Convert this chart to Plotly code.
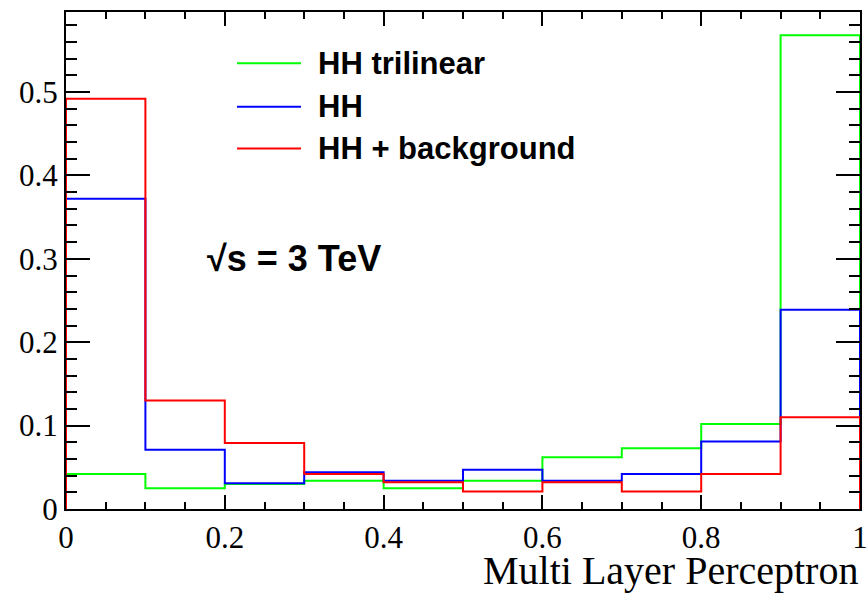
import plotly.graph_objects as go

# ---- data ----
bin_edges = [0.0, 0.1, 0.2, 0.3, 0.4, 0.5, 0.6, 0.7, 0.8, 0.9, 1.0]
hh_trilinear = [0.042, 0.025, 0.030, 0.034, 0.025, 0.034, 0.062, 0.073, 0.102, 0.568]
hh = [0.372, 0.071, 0.031, 0.044, 0.034, 0.047, 0.034, 0.042, 0.081, 0.239]
hh_bkg = [0.492, 0.130, 0.079, 0.042, 0.032, 0.021, 0.032, 0.021, 0.042, 0.110]

series_names = ["HH trilinear", "HH", "HH + background"]
series_colors = ["#00ff00", "#0000ff", "#ff0000"]
series_values = [hh_trilinear, hh, hh_bkg]


def step_xy(edges, vals):
    xs = [edges[0]] + list(edges[:-1]) + [edges[-1], edges[-1]]
    ys = [0.0] + list(vals) + [vals[-1], 0.0]
    return xs, ys


fig = go.Figure()
for name, col, vals in zip(series_names, series_colors, series_values):
    xs, ys = step_xy(bin_edges, vals)
    fig.add_trace(go.Scatter(x=xs, y=ys, mode="lines", line_shape="hv",
                             line=dict(color=col, width=2), name=name,
                             showlegend=False, cliponaxis=True))

serif = "Liberation Serif"
sans = "Liberation Sans"

fig.update_layout(
    width=868, height=596,
    margin=dict(l=66, r=8, t=12, b=87, autoexpand=False),
    paper_bgcolor="white", plot_bgcolor="white",
    xaxis=dict(range=[0, 1], dtick=0.2, tick0=0, ticks="inside", ticklen=14,
               tickwidth=2, tickcolor="black", showline=True, linecolor="black",
               linewidth=2, mirror="ticks", showgrid=False, zeroline=False,
               automargin=False,
               tickfont=dict(family=serif, size=31, color="black"),
               minor=dict(dtick=0.05, ticks="inside", ticklen=7, tickwidth=2,
                          tickcolor="black", showgrid=False)),
    yaxis=dict(range=[0, 0.596], dtick=0.1, tick0=0, ticks="inside", ticklen=24,
               tickwidth=2, tickcolor="black", showline=True, linecolor="black",
               linewidth=2, mirror="ticks", showgrid=False, zeroline=False,
               automargin=False,
               tickfont=dict(family=serif, size=31, color="black"),
               minor=dict(dtick=0.02, ticks="inside", ticklen=11, tickwidth=2,
                          tickcolor="black", showgrid=False)),
)

# axis title (right aligned, ROOT style)
fig.add_annotation(text="Multi Layer Perceptron", xref="paper", yref="paper",
                   x=1.0, y=(508.7 - 570) / 496.7, xanchor="right", yanchor="middle",
                   showarrow=False, font=dict(family=serif, size=40, color="black"))

# legend (custom, ROOT style)
leg_px = [63.3, 106.7, 148.3]
for i, (name, col) in enumerate(zip(series_names, series_colors)):
    yy = (508.7 - leg_px[i]) / 496.7
    fig.add_shape(type="line", xref="paper", yref="paper",
                  x0=(237 - 66) / 794, x1=(301 - 66) / 794, y0=yy, y1=yy,
                  line=dict(color=col, width=2))
    fig.add_annotation(text="<b>" + name + "</b>", xref="paper", yref="paper",
                       x=(316 - 66) / 794, y=yy, xanchor="left", yanchor="middle",
                       showarrow=False, font=dict(family=sans, size=31, color="black"))

fig.add_annotation(text="<b>√s = 3 TeV</b>", xref="paper", yref="paper",
                   x=(205 - 66) / 794, y=(508.7 - 258) / 496.7, xanchor="left",
                   yanchor="middle", showarrow=False,
                   font=dict(family=sans, size=36, color="black"))

fig.write_html("out.html")
